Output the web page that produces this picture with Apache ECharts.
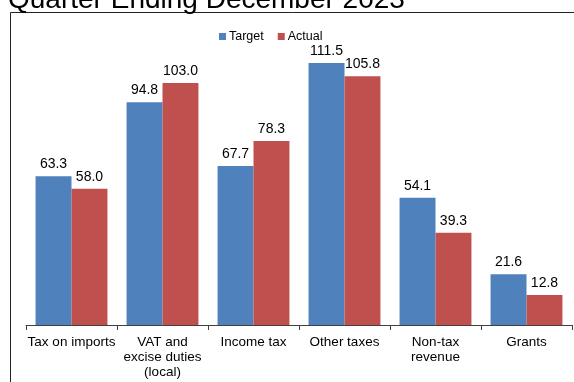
<!DOCTYPE html>
<html>
<head>
<meta charset="utf-8">
<script src="https://cdn.jsdelivr.net/npm/echarts@6/dist/echarts.min.js"></script>
<style>
  html, body { margin: 0; padding: 0; background: #fff; }
  #chart { width: 574px; height: 382px; }
</style>
</head>
<body>
<div id="chart"></div>
<script>
// Revenue by source: target vs actual
const categories = ['Tax on imports', 'VAT and\nexcise duties\n(local)', 'Income tax', 'Other taxes', 'Non-tax\nrevenue', 'Grants'];
const targetValues = [63.3, 94.8, 67.7, 111.5, 54.1, 21.6];
const actualValues = [58.0, 103.0, 78.3, 105.8, 39.3, 12.8];
const seriesNames = ['Target', 'Actual'];
const titleText = 'Quarter Ending December 2023';

const FONT = "'Liberation Sans', Arial, sans-serif";

const chart = echarts.init(document.getElementById('chart'), null, { renderer: 'canvas' });

const valueLabel = {
  show: true,
  position: 'top',
  distance: 5,
  color: '#000',
  fontSize: 14,
  fontFamily: FONT,
  formatter: p => p.value.toFixed(1)
};

chart.setOption({
  animation: false,
  backgroundColor: '#fff',
  title: {
    text: titleText,
    left: 3,
    top: -19,
    textStyle: { fontSize: 28, fontWeight: 'normal', color: '#000', fontFamily: FONT }
  },
  graphic: [{
    type: 'rect',
    shape: { x: 10.5, y: 12.5, width: 700, height: 500 },
    style: { fill: 'none', stroke: '#222', lineWidth: 1 },
    z: -1
  }],
  legend: {
    data: seriesNames,
    left: 214,
    top: 25,
    itemWidth: 7,
    itemHeight: 7,
    itemGap: 14,
    icon: 'rect',
    textStyle: { fontSize: 12.5, color: '#000', fontFamily: FONT, padding: [0, 0, 0, -2] }
  },
  grid: { left: 26, right: 2, top: 43, bottom: 57 },
  xAxis: {
    type: 'category',
    data: categories,
    axisLine: { lineStyle: { color: '#404040', width: 1 } },
    axisTick: { show: true, length: 5, lineStyle: { color: '#404040' } },
    axisLabel: {
      interval: 0,
      margin: 10,
      color: '#000',
      fontSize: 13.5,
      lineHeight: 15,
      fontFamily: FONT
    }
  },
  yAxis: {
    type: 'value',
    min: 0,
    max: 120,
    show: false,
    splitLine: { show: false }
  },
  series: [
    {
      name: seriesNames[0],
      type: 'bar',
      data: targetValues,
      barGap: '0%',
      barCategoryGap: '21%',
      itemStyle: { color: '#4F81BD' },
      label: valueLabel
    },
    {
      name: seriesNames[1],
      type: 'bar',
      data: actualValues,
      barGap: '0%',
      barCategoryGap: '21%',
      itemStyle: { color: '#C0504D' },
      label: valueLabel
    }
  ]
});
</script>
</body>
</html>
